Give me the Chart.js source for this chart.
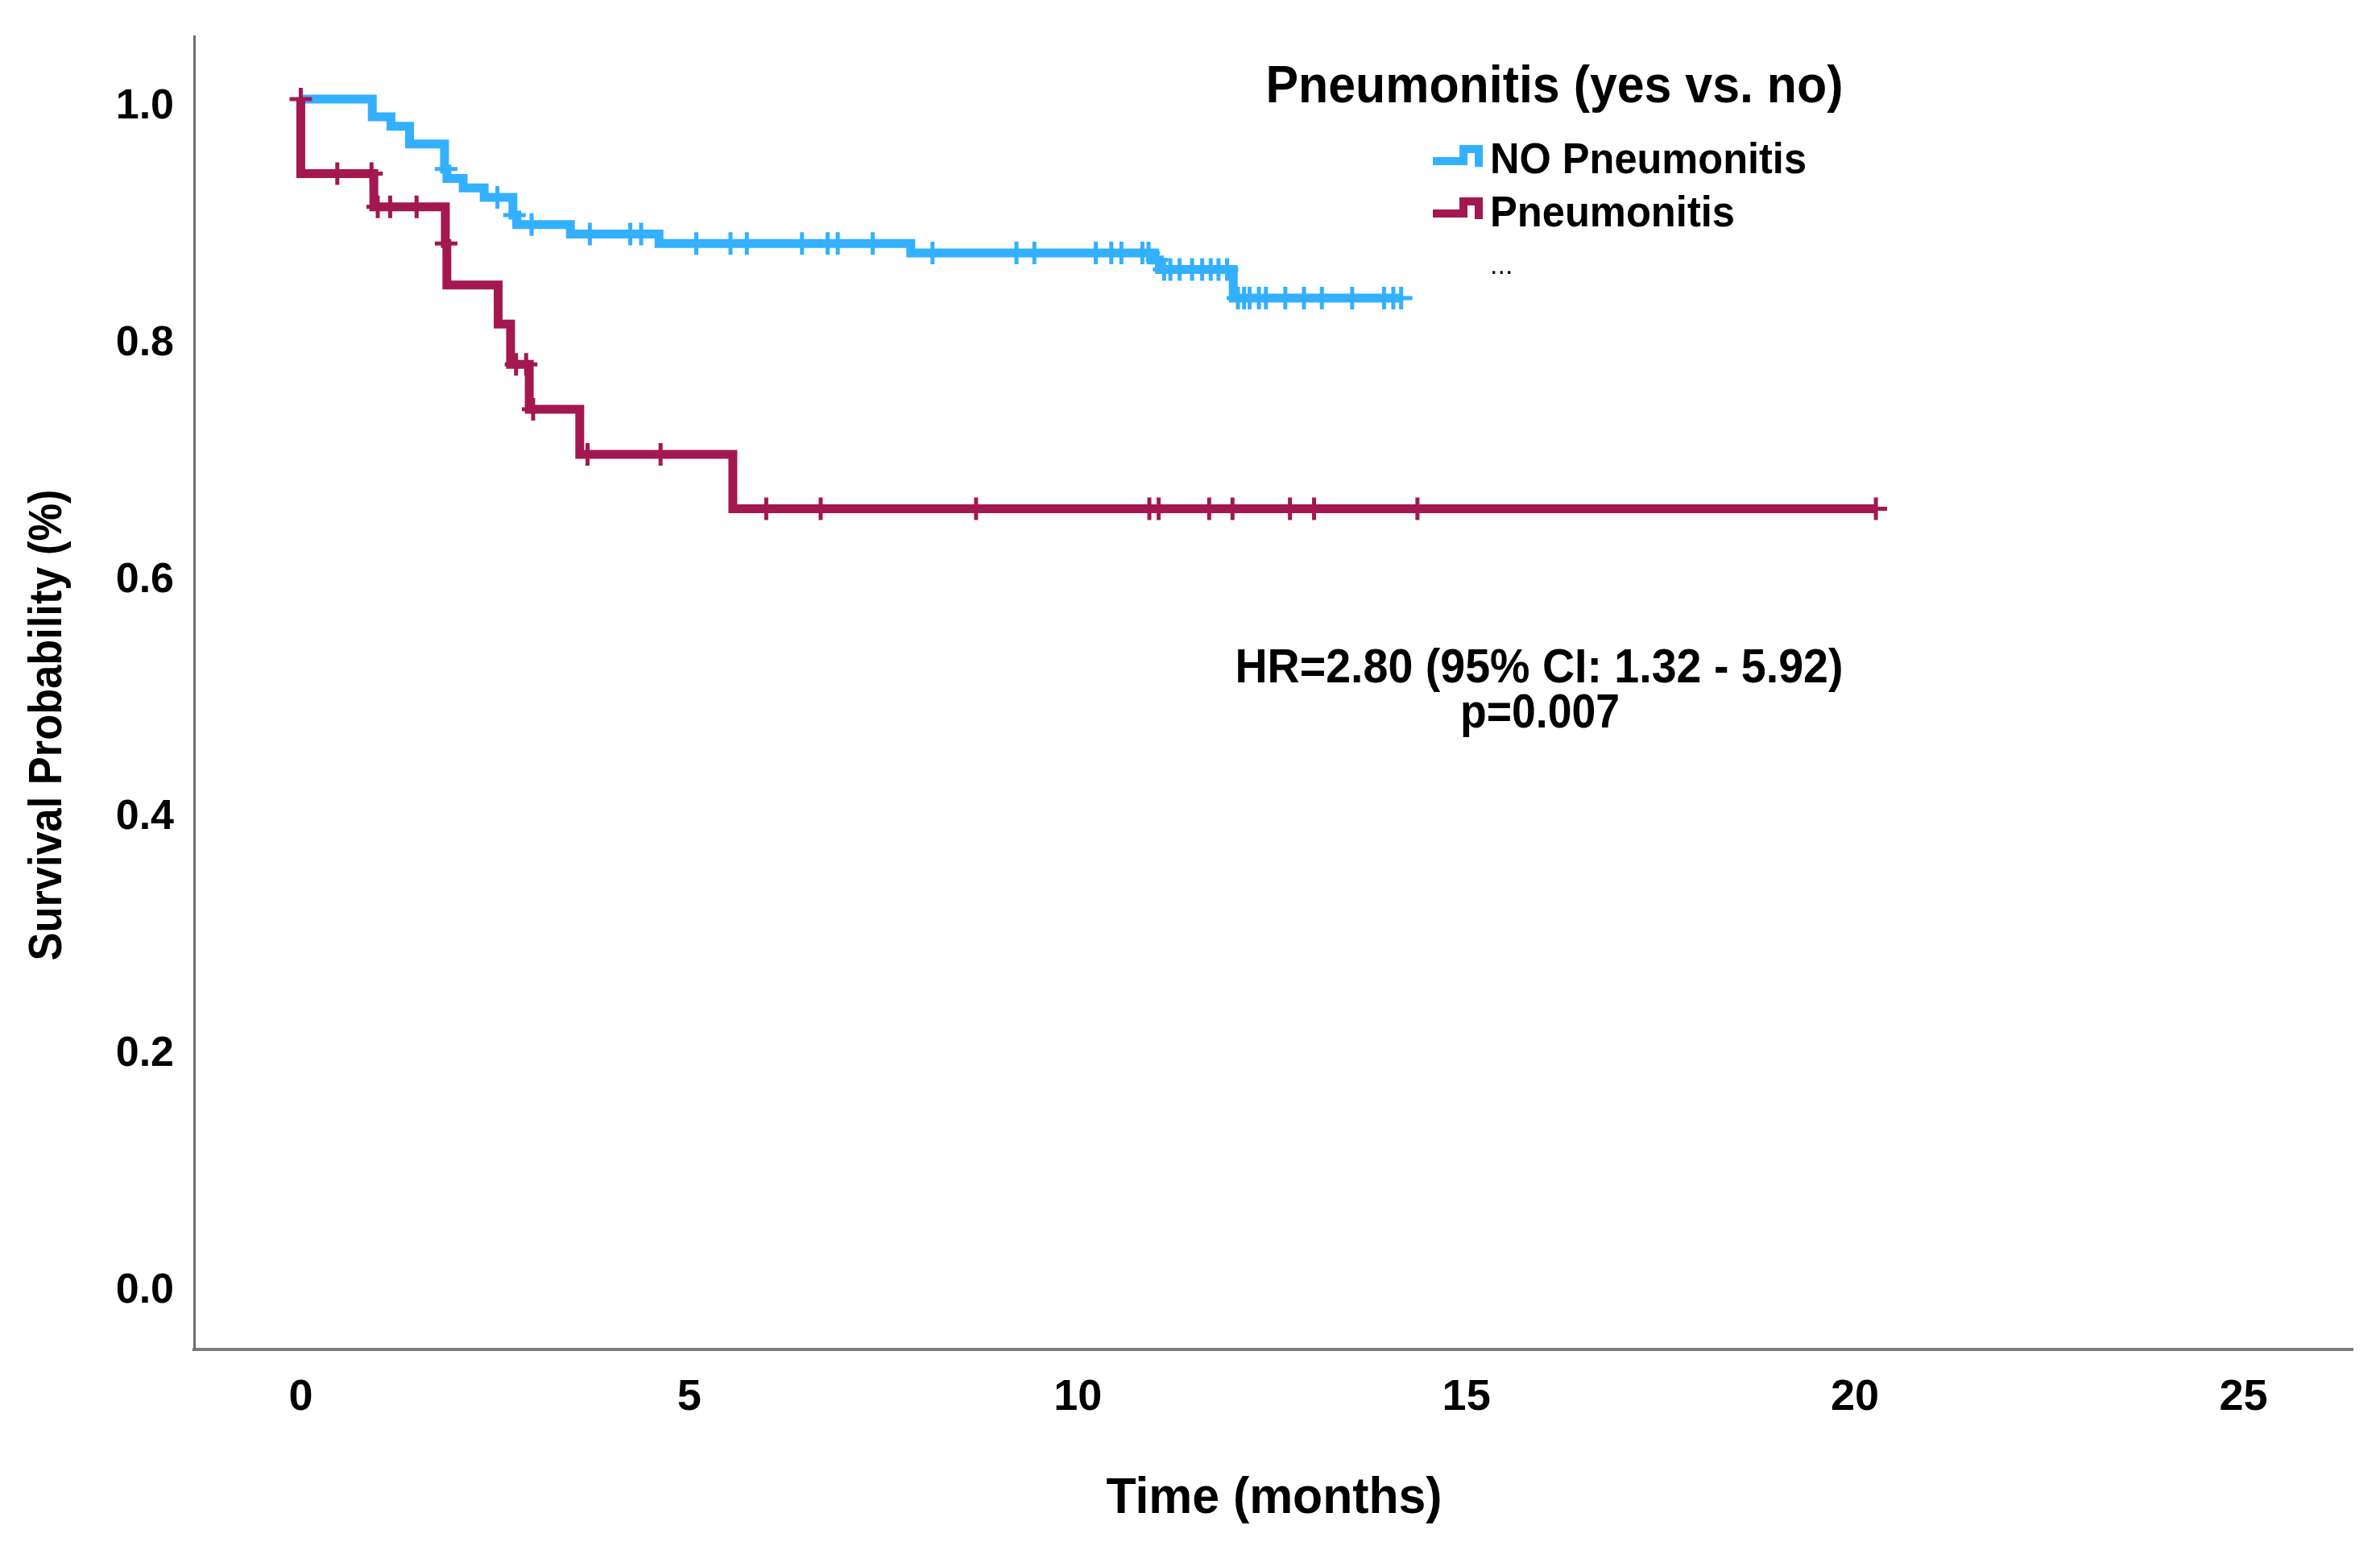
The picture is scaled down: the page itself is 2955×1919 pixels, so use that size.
<!DOCTYPE html>
<html>
<head>
    <meta charset="utf-8">
    <title>Pneumonitis (yes vs. no)</title>
    <script src="https://cdn.jsdelivr.net/npm/chart.js@4.4.1/dist/chart.umd.min.js"></script>
    <style>
        html, body { margin: 0; padding: 0; background: #fff; overflow: hidden; }
        canvas { display: block; }
    </style>
</head>
<body>
    <canvas id="km" width="2955" height="1919"></canvas>
    <script>
        // Kaplan-Meier steps: event time (months) and survival after it
        var noPneumoTimes = [0, 0.92, 1.16, 1.40, 1.85, 1.88, 2.09, 2.36, 2.73, 2.78, 3.47, 4.61, 7.85, 10.96, 11.05, 12.00];
        var noPneumoSurv  = [1.0, 0.985, 0.977, 0.962, 0.941, 0.933, 0.925, 0.917, 0.902, 0.894, 0.886, 0.878, 0.870, 0.864, 0.856, 0.832];
        var noPneumoCensored = [1.87, 2.53, 2.75, 2.97, 3.72, 4.24, 4.38, 5.09, 5.53, 5.74, 6.45, 6.78, 6.91, 7.36,
            8.13, 9.21, 9.44, 10.23, 10.43, 10.56, 10.83, 10.91, 11.02, 11.11, 11.19, 11.31, 11.47, 11.60, 11.71,
            11.81, 11.92, 12.06, 12.14, 12.21, 12.33, 12.42, 12.67, 12.91, 13.14, 13.53, 13.94, 14.06, 14.16];

        var pneumoTimes = [0, 0, 0.94, 1.86, 1.88, 2.54, 2.70, 2.94, 3.59, 5.56];
        var pneumoSurv  = [1.0, 0.937, 0.909, 0.878, 0.843, 0.810, 0.776, 0.738, 0.700, 0.654];
        var pneumoCensored = [0, 0.47, 0.91, 0.99, 1.15, 1.49, 1.87, 2.77, 2.90, 2.99, 3.69, 4.63, 5.99, 6.69,
            8.69, 10.92, 11.04, 11.69, 11.99, 12.73, 13.04, 14.37, 20.27];

        var groupLabels = ['NO Pneumonitis', 'Pneumonitis'];
        var groupColors = ['#33b0ff', '#a31850'];

        var xTicks = [0, 5, 10, 15, 20, 25];
        var yTicks = [0.0, 0.2, 0.4, 0.6, 0.8, 1.0];

        var legendTitle = 'Pneumonitis (yes vs. no)';
        var statLines = ['HR=2.80 (95% CI: 1.32 - 5.92)', 'p=0.007'];
        var xTitle = 'Time (months)';
        var yTitle = 'Survival Probability (%)';

        var FONT = '"Liberation Sans", Arial, sans-serif';

        function stepPoints(times, surv, censored) {
            var pts = [];
            for (var i = 0; i < times.length; i++) {
                pts.push({ x: times[i], y: surv[i] });
            }
            var last = censored[censored.length - 1];
            if (last > times[times.length - 1]) {
                pts.push({ x: last, y: surv[surv.length - 1] });
            }
            return pts;
        }

        function survAt(times, surv, t) {
            var s = 1.0;
            for (var i = 0; i < times.length; i++) {
                if (times[i] < t) s = surv[i];
            }
            return s;
        }

        function censorPoints(times, surv, censored) {
            return censored.map(function(t) {
                return { x: t, y: survAt(times, surv, t) };
            });
        }

        // draw text squeezed to a given width (the original uses a narrow bold face)
        function fitText(ctx, text, x, y, size, weight, width, align) {
            ctx.save();
            ctx.font = weight + ' ' + size + 'px ' + FONT;
            ctx.fillStyle = '#000';
            ctx.textAlign = align;
            ctx.textBaseline = 'alphabetic';
            var sx = width ? width / ctx.measureText(text).width : 1;
            ctx.translate(x, y);
            ctx.scale(sx, 1);
            ctx.fillText(text, 0, 0);
            ctx.restore();
        }

        function stepIcon(ctx, x, y, color) {
            ctx.save();
            ctx.strokeStyle = color;
            ctx.lineWidth = 10;
            ctx.lineJoin = 'miter';
            ctx.beginPath();
            ctx.moveTo(x, y + 15);
            ctx.lineTo(x + 38, y + 15);
            ctx.lineTo(x + 38, y);
            ctx.lineTo(x + 57, y);
            ctx.lineTo(x + 57, y + 22);
            ctx.stroke();
            ctx.restore();
        }

        var annotations = {
            id: 'annotations',
            afterDraw: function(chart) {
                var ctx = chart.ctx;
                // legend
                fitText(ctx, legendTitle, 1930, 127, 65, 'bold', 717, 'center');
                stepIcon(ctx, 1779, 185, groupColors[0]);
                stepIcon(ctx, 1779, 250, groupColors[1]);
                fitText(ctx, groupLabels[0], 1850, 215, 53, 'bold', 393, 'left');
                fitText(ctx, groupLabels[1], 1850, 281, 53, 'bold', 304, 'left');
                fitText(ctx, '...', 1850, 340, 34, 'normal', null, 'left');

                // hazard ratio
                fitText(ctx, statLines[0], 1911, 847, 60, 'bold', 755, 'center');
                fitText(ctx, statLines[1], 1912, 903, 60, 'bold', 198, 'center');

                // axis titles
                fitText(ctx, xTitle, 1582, 1878, 63, 'bold', 417, 'center');
                ctx.save();
                ctx.translate(76, 900);
                ctx.rotate(-Math.PI / 2);
                fitText(ctx, yTitle, 0, 0, 58, 'bold', 585, 'center');
                ctx.restore();
            }
        };

        var ctx = document.getElementById('km').getContext('2d');
        var kmChart = new Chart(ctx, {
            type: 'line',
            data: {
                datasets: [
                    {
                        label: groupLabels[1] + ' censored',
                        data: censorPoints(pneumoTimes, pneumoSurv, pneumoCensored),
                        showLine: false,
                        pointStyle: 'cross',
                        pointRadius: 14,
                        pointBorderWidth: 5,
                        pointBorderColor: groupColors[1],
                        borderColor: groupColors[1],
                        order: 0
                    },
                    {
                        label: groupLabels[1],
                        data: stepPoints(pneumoTimes, pneumoSurv, pneumoCensored),
                        stepped: true,
                        borderColor: groupColors[1],
                        borderWidth: 11,
                        borderJoinStyle: 'miter',
                        pointRadius: 0,
                        fill: false,
                        order: 1
                    },
                    {
                        label: groupLabels[0] + ' censored',
                        data: censorPoints(noPneumoTimes, noPneumoSurv, noPneumoCensored),
                        showLine: false,
                        pointStyle: 'cross',
                        pointRadius: 14,
                        pointBorderWidth: 5,
                        pointBorderColor: groupColors[0],
                        borderColor: groupColors[0],
                        order: 2
                    },
                    {
                        label: groupLabels[0],
                        data: stepPoints(noPneumoTimes, noPneumoSurv, noPneumoCensored),
                        stepped: true,
                        borderColor: groupColors[0],
                        borderWidth: 11,
                        borderJoinStyle: 'miter',
                        pointRadius: 0,
                        fill: false,
                        order: 3
                    }
                ]
            },
            options: {
                responsive: false,
                devicePixelRatio: 1,
                animation: false,
                layout: { padding: { top: 45, right: 34, left: 0, bottom: 0 } },
                plugins: {
                    legend: { display: false },
                    tooltip: { enabled: false }
                },
                scales: {
                    x: {
                        type: 'linear',
                        min: -1.373,
                        max: 26.405,
                        grid: { display: false, drawTicks: false },
                        border: { display: true, color: '#7d7d7d', width: 4 },
                        afterBuildTicks: function(scale) {
                            scale.ticks = xTicks.map(function(v) { return { value: v }; });
                        },
                        afterFit: function(scale) { scale.height = 244; },
                        ticks: {
                            padding: 28,
                            color: '#000',
                            font: { family: FONT, size: 54, weight: 'bold' },
                            callback: function(v) { return String(v); }
                        }
                    },
                    y: {
                        type: 'linear',
                        min: -0.0558,
                        max: 1.053,
                        // tick marks are hidden; their length only spaces the labels from the axis
                        grid: { display: false, drawTicks: true, tickLength: 25 },
                        border: { display: true, color: '#6e6e6e', width: 3 },
                        afterBuildTicks: function(scale) {
                            scale.ticks = yTicks.map(function(v) { return { value: v }; });
                        },
                        afterFit: function(scale) { scale.width = 241; },
                        ticks: {
                            padding: 0,
                            labelOffset: 10,
                            color: '#000',
                            font: { family: FONT, size: 52, weight: 'bold' },
                            callback: function(v) { return v.toFixed(1); }
                        }
                    }
                }
            },
            plugins: [annotations]
        });
    </script>
</body>
</html>
